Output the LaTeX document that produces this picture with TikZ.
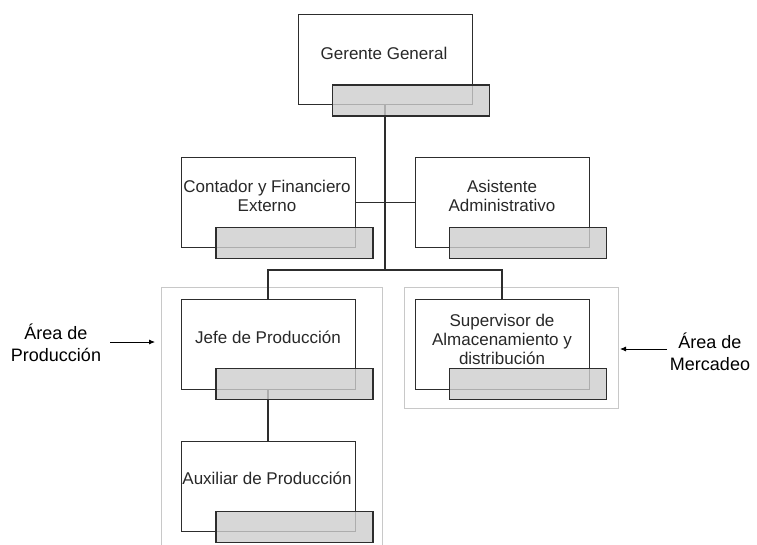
\documentclass[tikz,border=0pt]{standalone}
\usepackage{fontspec}
\setmainfont{Liberation Sans}
\usetikzlibrary{arrows.meta,calc}
\definecolor{linec}{RGB}{45,45,45}
\definecolor{grayfill}{RGB}{205,205,205}
\definecolor{areac}{RGB}{200,200,200}
\definecolor{textc}{RGB}{40,40,40}
\tikzset{
  wbox/.style={draw=linec, line width=1pt, fill=white, minimum width=174pt, minimum height=90pt, inner sep=0pt, outer sep=0pt},
  gbox/.style={draw=linec, line width=1.1pt, fill=grayfill, fill opacity=0.8, minimum width=157pt, minimum height=31pt, inner sep=0pt, outer sep=0pt},
  areabox/.style={draw=areac, line width=1pt},
  conn/.style={draw=linec, line width=1.4pt},
  txt/.style={text=textc, font=\fontsize{17}{19}\selectfont, align=center, inner sep=0pt},
  lbl/.style={text=black, font=\fontsize{18}{21.5}\selectfont, align=center, inner sep=0pt},
  pointer/.style={draw=black, line width=0.8pt, -{Latex[length=6pt,width=5pt]}}
}
\begin{document}
\begin{tikzpicture}[x=1pt,y=-1pt]
\useasboundingbox (0,0) rectangle (757,545);
% area frames
\draw[areabox] (161,287) rectangle (382,560);
\draw[areabox] (404,287) rectangle (618,408);
% white boxes
\node[wbox] (G) at (385,60) {};
\node[wbox] (C) at (268,202.5) {};
\node[wbox] (A) at (502,202.5) {};
\node[wbox] (J) at (268,344) {};
\node[wbox] (S) at (502,344) {};
\node[wbox] (X) at (268,486.5) {};
% connectors
\coordinate (bus) at (385,270);
\draw[conn] (G.south) -- (G.south |- bus);
\draw[conn] (C.east) -- (A.west);
\draw[conn] (J.north) -- (J.north |- bus) -- (S.north |- bus) -- (S.north);
\draw[conn] (J.south) -- (X.north);
% gray boxes
\node[gbox] (Gg) at ($(G.center)+(26,40.5)$) {};
\node[gbox] (Cg) at ($(C.center)+(26.5,40.5)$) {};
\node[gbox] (Ag) at ($(A.center)+(26,40.5)$) {};
\node[gbox] (Jg) at ($(J.center)+(26.5,40)$) {};
\node[gbox] (Sg) at ($(S.center)+(26,40)$) {};
\node[gbox] (Xg) at ($(X.center)+(26.5,40.5)$) {};
% texts
\node[txt] (Gt) at ($(G.center)+(-1,-7)$) {Gerente General};
\node[txt] (Ct) at ($(C.center)+(-1,-7)$) {Contador y Financiero\\Externo};
\node[txt] (At) at ($(A.center)+(0,-7)$) {Asistente\\Administrativo};
\node[txt] (Jt) at ($(J.center)+(0,-7)$) {Jefe de Producción};
\node[txt] (St) at ($(S.center)+(0,-5)$) {Supervisor de\\Almacenamiento y\\distribución};
\node[txt] (Xt) at ($(X.center)+(-1,-8)$) {Auxiliar de Producción};
% side labels
\node[lbl] (LP) at (56,343) {Área de\\Producción};
\node[lbl] (LM) at (710,352) {Área de\\Mercadeo};
\coordinate (LPa) at (110,342);
\coordinate (LPb) at (155,342);
\coordinate (LMa) at (667,349);
\coordinate (LMb) at (620,349);
\draw[pointer] (LPa) -- (LPb);
\draw[pointer] (LMa) -- (LMb);
\end{tikzpicture}
\end{document}
